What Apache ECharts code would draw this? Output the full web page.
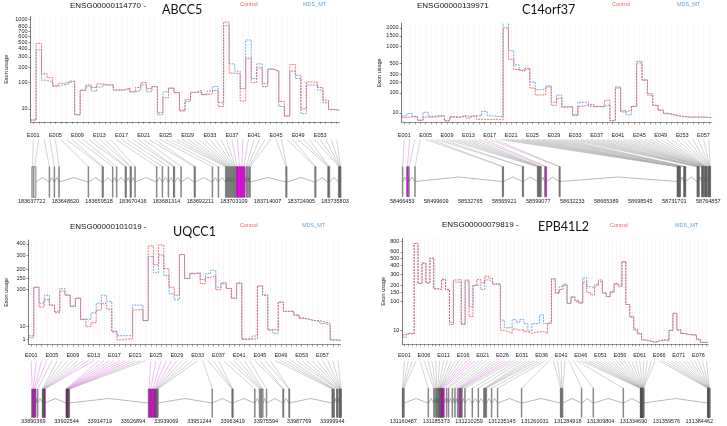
<!DOCTYPE html>
<html><head><meta charset="utf-8">
<script src="https://cdn.jsdelivr.net/npm/echarts@6/dist/echarts.min.js"></script>
<style>html,body{margin:0;padding:0;background:#fff}#c{width:727px;height:426px}</style>
</head><body><div id="c"></div>
<script>
// ---------------- DATA ----------------
// ABCC5
const abccControl = [0.2,480,150,125,80,93,97,105,3,60,85,73,90,85,85,62,62,70,55,73,97,68,77,5,35,70,52,7,30,53,60,45,48,60,14,920,155,150,26,285,97,195,77,185,170,25,2,225,140,10,100,100,73,28,9,8];
const abccMDS = [0.2,385,110,100,80,85,90,105,3,62,77,58,75,85,85,62,62,70,55,60,85,55,77,3,55,70,52,8,25,53,54,45,58,77,22,830,230,170,68,535,120,230,93,185,170,14,2,170,120,4,85,85,62,22,9,8];
const abccTicks = [10,100,200,300,400,500,600,700,800,900,1000];
const abccGenomeTicks = [183637722,183648620,183659518,183670416,183681314,183692211,183703109,183714007,183724905,183735803];
const abccExonStartKb = [0,0.54,5.61,7.22,8.73,18.22,22.75,22.96,26.09,27.38,30.18,30.40,31.80,32.02,33.31,40.32,42.15,44.09,45.82,46.03,48.19,52.50,52.71,58.32,60.26,62.63,62.96,63.28,63.60,63.93,64.25,64.57,64.90,65.22,65.54,65.76,66.08,66.73,67.59,68.24,69.32,69.75,70.18,70.50,82.14,82.36,91.52,91.74,95.73,95.94,96.16,99.18,99.39,99.61,99.72,99.82];
const abccExonEndKb = [0.54,1.40,5.82,7.44,8.95,18.43,22.96,23.18,26.30,27.60,30.40,30.62,32.02,32.23,33.53,40.53,42.37,44.31,46.03,46.25,48.40,52.71,52.93,58.54,60.48,62.85,63.17,63.49,63.82,64.14,64.46,64.79,65.11,65.44,65.76,66.08,66.73,67.59,68.24,68.99,69.53,69.96,70.39,70.72,82.36,82.58,91.74,91.95,95.94,96.16,96.37,99.39,99.61,99.72,99.82,99.93];
const abccSig = [37,38,39,40];

// C14orf37
const c14Control = [2.7,3.5,2.7,0.5,3,3,3.5,4.5,0.3,3,2.7,4.5,2,4.5,1,1,1,1,0.6,2000,600,380,350,400,140,85,88,150,32,65,25,27,5,28,35,35,27,27,55,0.4,140,12,16,28,550,220,85,32,16,9,6.5,4.5,3.5,3,3,3,2.8,2.5];
const c14MDS = [4.5,8.5,4,0.5,11,4,5,4.5,0.3,3.5,3,5,3.5,4.5,5,13,4.5,4,3.5,2500,850,470,370,400,200,125,130,160,45,85,27,27,6,45,45,28,28,28,35,0.3,150,15,6,28,510,230,95,32,16,8,6,4.5,3.5,3,3,3,2.8,2.5];
const c14Ticks = [10,100,200,300,500,1000,1500,2000];
const c14GenomeTicks = [58466453,58499609,58532765,58565921,58599077,58632233,58665389,58698545,58731701,58764857];
const c14ExonStartKb = [0,4.23,6.18,12.03,97.53,98.18,117.04,117.69,131.67,132.32,132.97,133.62,134.27,134.92,138.82,139.47,152.80,153.45,267.9,268.3,268.7,269.1,269.5,269.9,270.3,270.7,274.4,274.8,275.2,275.6,275.9,287.4,287.7,288.0,288.4,288.7,289.0,291.9,292.3,292.6,292.9,293.2,293.6,294.9,295.2,295.4,295.7,296.0,296.3,296.6,296.9,298.4,298.7,299.0,299.3,299.6,299.8,300.1];
const c14ExonEndKb = [0.65,5.85,6.83,12.68,98.18,98.51,117.69,118.01,132.32,132.97,133.62,134.27,134.92,135.57,139.47,140.77,153.45,153.77,268.3,268.7,269.1,269.5,269.9,270.3,270.7,271.1,274.8,275.2,275.6,275.9,276.3,287.7,288.0,288.4,288.7,289.0,289.3,292.3,292.6,292.9,293.2,293.6,293.9,295.2,295.4,295.7,296.0,296.3,296.6,296.9,297.1,298.7,299.0,299.3,299.6,299.8,300.1,300.4];
const c14Sig = [2,16];

// UQCC1
const uqControl = [1.5,110,45,65,50,32,95,80,47,70,20,10,15,38,55,40,5,0.7,1,1,38,40,18,380,230,390,205,110,80,305,150,175,180,125,155,165,100,125,105,70,128,1,1,1,115,80,7,6.5,58,35,35,27,22,20,18,18,16,14,0.7,0.6];
const uqMDS = [2.5,110,55,80,50,35,105,80,47,70,20,20,32,55,80,60,5.5,2.5,2.5,2.5,50,50,18,290,180,300,165,85,65,305,150,178,178,145,175,195,110,130,105,70,128,0.8,1,2.3,115,80,6.5,4,58,35,35,28,22,20,18,17,14,12,0.7,0.6];
const uqTicks = [1,10,100,150,200,300,400];
const uqGenomeTicks = [33890369,33902544,33914719,33926894,33939069,33951244,33963419,33975594,33987769,33999944];
const uqExonStartKb = [-0.61,-0.24,0.12,0.49,1.47,3.30,3.42,3.54,3.66,3.79,3.91,4.03,4.15,11.97,12.09,12.21,12.33,12.45,12.58,12.70,12.82,12.94,13.06,42.12,42.74,43.35,43.96,44.44,44.69,44.93,45.18,45.42,45.54,65.45,72.77,72.89,73.02,81.07,82.78,83.15,83.52,83.88,85.35,91.45,91.57,93.65,93.77,109.40,109.65,109.89,110.13,111.11,111.36,111.48,112.09,112.21,112.33,112.45,112.58,112.70];
const uqExonEndKb = [-0.24,0.12,0.49,0.98,1.71,3.42,3.54,3.66,3.79,3.91,4.03,4.15,4.27,12.09,12.21,12.33,12.45,12.58,12.70,12.82,12.94,13.06,13.18,42.74,43.35,43.96,44.44,44.69,44.93,45.18,45.42,45.54,45.67,65.69,72.89,73.02,73.14,81.32,83.15,83.52,83.88,84.25,85.59,91.57,91.70,93.77,93.89,109.65,109.89,110.13,110.38,111.36,111.48,111.60,112.21,112.33,112.45,112.58,112.70,112.82];
const uqSig = [1,2,3,4,12,13,14,15,16,18,19,20,21,24,25,26,27,28,29];

// EPB41L2
const epbControl = [4.5,6,5.5,760,215,430,220,500,175,170,250,170,20,245,250,20,245,40,200,250,220,280,260,210,210,10,8,6,12,10,11,8,6,7,8,8,6,22,255,145,170,200,90,120,100,90,225,150,135,205,245,145,125,155,215,190,450,85,40,12,6,1,0.7,0.3,0.3,0.9,1.1,0.5,10,50,11,6,5,4.5,4.5,1,0.2,0.2];
const epbMDS = [2.5,6,6,760,215,430,220,500,175,170,250,170,25,225,230,22,235,75,200,205,170,245,230,210,210,30,14,14,32,25,32,22,9,22,22,45,22,25,255,150,190,210,90,125,105,95,265,190,185,200,230,150,125,150,210,195,450,85,38,10,5.5,1,0.7,0.3,0.3,0.7,0.9,1,10,50,10,6,5,4.5,4.5,1.5,0.2,0.2];
const epbTicks = [10,100,150,200,300,400,500,600,700,800];
const epbGenomeTicks = [131160487,131185373,131210259,131235145,131260031,131284918,131309804,131334690,131359576,131384462];
const epbExonStartKb = [-0.76,-0.50,-0.25,0.25,18.66,22.95,23.71,24.72,25.22,25.98,26.48,26.99,27.49,27.74,27.99,28.25,28.50,29.26,30.01,32.53,34.05,36.82,38.84,40.86,41.87,42.37,43.38,44.14,46.40,51.95,56.49,60.78,61.28,62.04,62.54,66.58,71.12,89.28,118.79,119.29,119.80,120.30,134.68,143.50,166.20,179.31,179.44,179.57,179.69,179.82,179.94,180.07,180.20,180.32,180.45,180.57,180.70,180.83,180.95,181.08,181.20,181.33,181.45,181.58,181.71,230.26,230.38,230.49,230.61,230.72,230.84,230.96,231.07,231.19,231.30,231.42,231.54,231.65];
const epbExonEndKb = [-0.50,-0.25,0.25,0.76,19.17,23.20,24.21,24.97,25.47,26.23,26.73,27.24,27.74,27.99,28.25,28.50,29.26,30.01,31.02,33.04,34.30,37.33,39.34,41.36,42.37,43.38,44.14,44.64,46.91,52.46,57.00,61.28,61.79,62.54,63.05,67.08,71.62,89.78,119.29,119.80,120.30,120.80,135.18,144.01,166.70,179.44,179.57,179.69,179.82,179.94,180.07,180.20,180.32,180.45,180.57,180.70,180.83,180.95,181.08,181.20,181.33,181.45,181.58,181.71,181.83,230.38,230.49,230.61,230.72,230.84,230.96,231.07,231.19,231.30,231.42,231.54,231.65,231.77];
const epbSig = [17,18,19,26,27];

// ---------------- RENDERING ----------------
const RED = '#ef5f6b', BLUE = '#5ca5da', MAG = '#ff00ff';
const SANS = 'Liberation Sans';
const A = 0.0025;
const T = v => Math.asinh(Math.sqrt(A * v));   // DEXSeq-style variance-stabilised scale
const exonName = n => 'E' + String(n).padStart(3, '0');

const option = {animation: false, backgroundColor: '#fff', title: [], grid: [], xAxis: [], yAxis: [], series: []};

function addTitle(text, left, top, size, color, family) {
  option.title.push({text, left, top, padding: 0,
    textStyle: {fontSize: size, color, fontFamily: family, fontWeight: 'normal'}});
}

function addPanel(p) {
  const N = p.control.length;
  const gi = option.grid.length;
  const exonIdx = p.control.map((_, i) => i + 1);
  const labIdx = exonIdx.filter(i => (i - 1) % p.labStep === 0);
  const tickT = p.ticks.map(T);

  addTitle(p.ensg, p.ensgPos[0], p.ensgPos[1], 8, '#111', SANS);
  addTitle(p.gene, p.genePos[0], p.genePos[1], 12.5, '#111', 'Lato');
  addTitle('Control', p.ctlPos[0], p.ctlPos[1], 5.5, RED, SANS);
  addTitle('MDS_MT', p.mdsPos[0], p.mdsPos[1], 5.5, BLUE, SANS);

  option.grid.push({left: p.L, top: p.top, width: p.W, height: p.bottom - p.top});
  option.xAxis.push({type: 'value', gridIndex: gi, min: 0.5, max: N + 0.5, position: 'bottom',
    offset: p.rulerY - p.bottom,
    axisLine: {show: true, lineStyle: {color: '#444', width: 0.6}},
    axisTick: {show: true, length: 2, customValues: exonIdx, lineStyle: {color: '#444', width: 0.5}},
    axisLabel: {customValues: labIdx, formatter: v => exonName(v), fontSize: 5.5, margin: p.xLabMargin,
      color: '#222', fontFamily: SANS, hideOverlap: false, showMinLabel: true, showMaxLabel: true},
    splitLine: {show: true, lineStyle: {color: '#e3e3e3', width: 0.6, type: [1, 1]}}});
  option.yAxis.push({type: 'value', gridIndex: gi, min: 0, max: p.yMax,
    name: 'Exon usage', nameLocation: 'middle', nameGap: p.nameGap, nameRotate: 90,
    nameTextStyle: {fontSize: 5.5, color: '#222', fontFamily: SANS},
    axisLine: {show: true, lineStyle: {color: '#222', width: 0.6}},
    axisTick: {show: true, length: 2, customValues: tickT, lineStyle: {color: '#222', width: 0.5}},
    axisLabel: {customValues: tickT, fontSize: 5.5, margin: 3, color: '#222', fontFamily: SANS,
      hideOverlap: false, showMinLabel: true, showMaxLabel: true,
      formatter: v => {
        let best = p.ticks[0];
        p.ticks.forEach(t => { if (Math.abs(T(t) - v) < Math.abs(T(best) - v)) best = t; });
        return String(best);
      }},
    splitLine: {show: false}});
  const stepData = vals => vals.map((v, i) => [i + 0.5, T(v)]).concat([[N + 0.5, T(vals[N - 1])]]);
  option.series.push({type: 'line', xAxisIndex: gi, yAxisIndex: gi, step: 'end', symbol: 'none', silent: true,
    data: stepData(p.mds), lineStyle: {color: BLUE, width: 0.9, type: [2, 1]}, z: 3});
  option.series.push({type: 'line', xAxisIndex: gi, yAxisIndex: gi, step: 'end', symbol: 'none', silent: true,
    data: stepData(p.control), lineStyle: {color: RED, width: 0.9, type: [2, 1]}, z: 3});

  // gene model
  const g0 = p.gTicks[0], g1 = p.gTicks[p.gTicks.length - 1];
  const bpPerPx = (g1 - g0) / (p.gTickPx[1] - p.gTickPx[0]);
  const axMin = g0 - (p.gTickPx[0] - p.L) * bpPerPx;
  const axMax = axMin + p.W * bpPerPx;
  const gh = p.boxBot - p.linkTop;
  const fy = y => (p.boxBot - y) / gh;
  const fBoxTop = fy(p.boxTop), fBase = fy(p.intronBase), fPeak = fy(p.intronPeak);
  option.grid.push({left: p.L, top: p.linkTop, width: p.W, height: gh});
  option.xAxis.push({type: 'value', gridIndex: gi + 1, min: axMin, max: axMax,
    axisLine: {show: false}, axisTick: {show: false}, splitLine: {show: false},
    axisLabel: {customValues: p.gTicks, formatter: v => String(v), fontSize: 5.5, margin: p.gLabMargin,
      color: '#222', fontFamily: SANS, hideOverlap: false, showMinLabel: true, showMaxLabel: true}});
  option.yAxis.push({type: 'value', gridIndex: gi + 1, min: 0, max: 1, show: false});

  const starts = p.startKb.map(k => g0 + k * 1000);
  const ends = p.endKb.map(k => g0 + k * 1000);
  const isSig = i => p.sig.indexOf(i + 1) >= 0;

  const linkData = starts.map((s, i) => [axMin + (i + 0.5) / N * (axMax - axMin), (s + ends[i]) / 2, isSig(i) ? 1 : 0]);
  option.series.push({type: 'custom', xAxisIndex: gi + 1, yAxisIndex: gi + 1, silent: true, z: 2,
    data: linkData.filter(d => !d[2]).concat(linkData.filter(d => d[2])),
    renderItem: (params, api) => {
      const a = api.coord([api.value(0), 1]);
      const b = api.coord([api.value(1), fBoxTop]);
      return {type: 'line', shape: {x1: a[0], y1: a[1], x2: b[0], y2: b[1]},
        style: {stroke: api.value(2) ? '#e47de4' : '#a8a8a8', lineWidth: 0.5}};
    }});
  const intronData = [];
  for (let i = 0; i < N - 1; i++) if (starts[i + 1] - ends[i] > 50) intronData.push([ends[i], starts[i + 1]]);
  option.series.push({type: 'custom', xAxisIndex: gi + 1, yAxisIndex: gi + 1, silent: true, z: 2,
    data: intronData,
    renderItem: (params, api) => {
      const e = api.value(0), s = api.value(1);
      const p1 = api.coord([e, fBase]), p2 = api.coord([(e + s) / 2, fPeak]), p3 = api.coord([s, fBase]);
      return {type: 'polyline', shape: {points: [p1, p2, p3]}, style: {stroke: '#888', lineWidth: 0.6, fill: null}};
    }});
  option.series.push({type: 'custom', xAxisIndex: gi + 1, yAxisIndex: gi + 1, silent: true, z: 4,
    data: starts.map((s, i) => [s, ends[i], isSig(i) ? 1 : 0]),
    renderItem: (params, api) => {
      const a = api.coord([api.value(0), fBoxTop]);
      const b = api.coord([api.value(1), 0]);
      const w = Math.max(b[0] - a[0], 0.6);
      return {type: 'rect', shape: {x: a[0], y: a[1], width: w, height: b[1] - a[1]},
        style: {fill: api.value(2) ? MAG : '#cfcfcf', stroke: '#3a3a3a', lineWidth: 0.45}};
    }});
}

addPanel({control: abccControl, mds: abccMDS, ticks: abccTicks, gTicks: abccGenomeTicks,
  startKb: abccExonStartKb, endKb: abccExonEndKb, sig: abccSig, labStep: 4,
  ensg: 'ENSG00000114770 -', gene: 'ABCC5', ensgPos: [70, 2], genePos: [162, 3], ctlPos: [240, 1.5], mdsPos: [303, 1.5],
  L: 30.5, W: 309, top: 16.7, bottom: 121.9, yMax: 1.269, rulerY: 126.7, xLabMargin: 5.5, nameGap: 21,
  linkTop: 139.5, boxTop: 166.7, boxBot: 197.3, intronBase: 182, intronPeak: 177.5, gTickPx: [31.7, 335], gLabMargin: 1.2});

addPanel({control: c14Control, mds: c14MDS, ticks: c14Ticks, gTicks: c14GenomeTicks,
  startKb: c14ExonStartKb, endKb: c14ExonEndKb, sig: c14Sig, labStep: 4,
  ensg: 'ENSG00000139971', gene: 'C14orf37', ensgPos: [417, 2], genePos: [522, 3], ctlPos: [612, 1.5], mdsPos: [677, 1.5],
  L: 401.6, W: 309.9, top: 23.3, bottom: 122.4, yMax: 1.619, rulerY: 126.7, xLabMargin: 5.5, nameGap: 16,
  linkTop: 139.5, boxTop: 166.7, boxBot: 196.7, intronBase: 181.5, intronPeak: 177, gTickPx: [402.3, 708.3], gLabMargin: 1.5});

addPanel({control: uqControl, mds: uqMDS, ticks: uqTicks, gTicks: uqGenomeTicks,
  startKb: uqExonStartKb, endKb: uqExonEndKb, sig: uqSig, labStep: 4,
  ensg: 'ENSG00000101019 -', gene: 'UQCC1', ensgPos: [70, 223], genePos: [173, 225], ctlPos: [240, 222.5], mdsPos: [302, 222.5],
  L: 28.6, W: 312, top: 240, bottom: 344.7, yMax: 0.916, rulerY: 346, xLabMargin: 6, nameGap: 19,
  linkTop: 360.7, boxTop: 389, boxBot: 417.3, intronBase: 403, intronPeak: 398.5, gTickPx: [33.3, 332.3], gLabMargin: 0.8});

addPanel({control: epbControl, mds: epbMDS, ticks: epbTicks, gTicks: epbGenomeTicks,
  startKb: epbExonStartKb, endKb: epbExonEndKb, sig: epbSig, labStep: 5,
  ensg: 'ENSG00000079819 -', gene: 'EPB41L2', ensgPos: [442, 221], genePos: [538, 220], ctlPos: [610, 222], mdsPos: [675, 222],
  L: 402.4, W: 305.8, top: 238.3, bottom: 344.4, yMax: 1.184, rulerY: 346, xLabMargin: 6, nameGap: 16,
  linkTop: 360.7, boxTop: 388.3, boxBot: 417.3, intronBase: 403, intronPeak: 398.5, gTickPx: [403.3, 699.3], gLabMargin: 0.8});

const chart = echarts.init(document.getElementById('c'), null, {renderer: 'canvas'});
chart.setOption(option);
</script>
</body></html>
